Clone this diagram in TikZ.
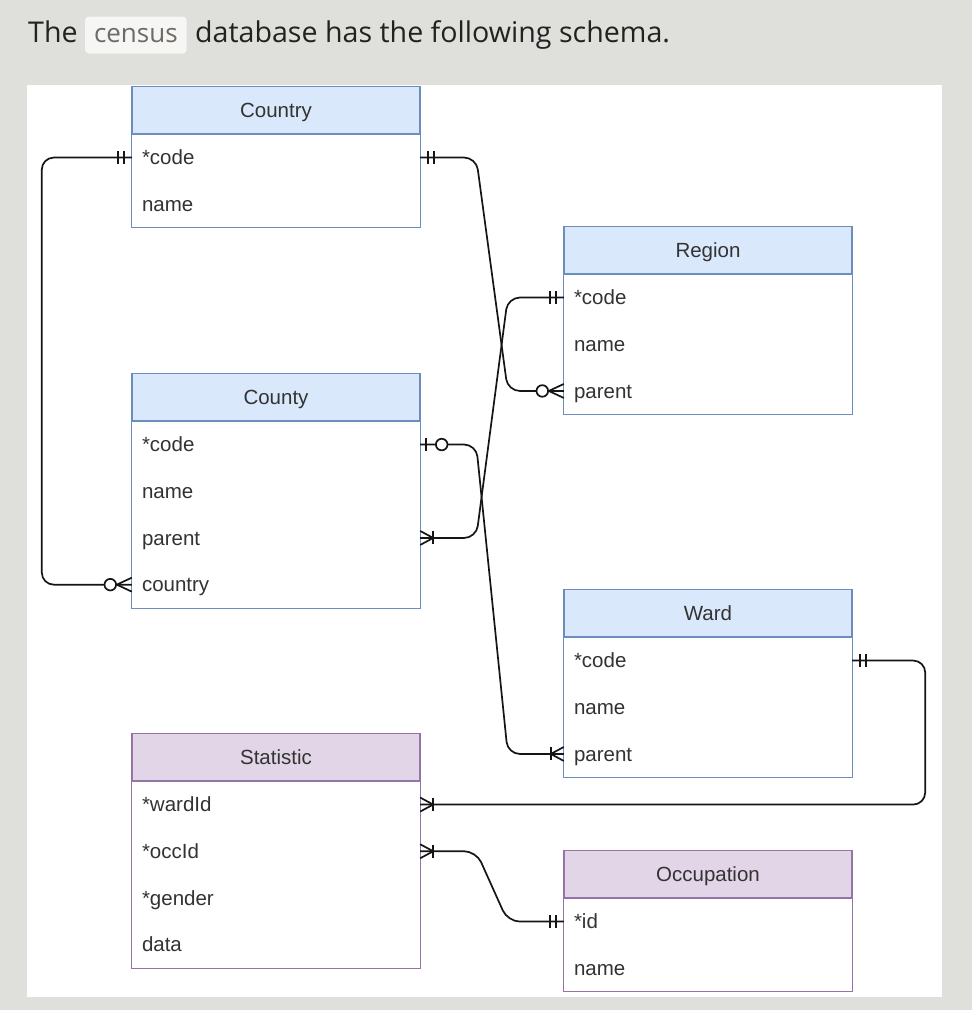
\documentclass[tikz,border=0pt]{standalone}
\usepackage{fontspec}
\setmainfont{Liberation Sans}
\newfontfamily\opensans{Open Sans}
\usepackage{tikz}
\usetikzlibrary{positioning, calc, decorations.markings}
\definecolor{pagegray}{HTML}{DFE0DB}
\definecolor{headtext}{HTML}{222222}
\definecolor{codefill}{HTML}{F6F6F4}
\definecolor{codetext}{HTML}{6E6A66}
\definecolor{tableblue}{HTML}{DAE8FC}
\definecolor{edgeblue}{HTML}{6C8EBF}
\definecolor{tablepurple}{HTML}{E1D5E7}
\definecolor{edgepurple}{HTML}{9673A6}
\definecolor{fieldtext}{HTML}{333333}
\definecolor{relblack}{HTML}{151515}

\tikzset{
  titletext/.style={font=\opensans\fontsize{28.6}{34}\selectfont, text=headtext, inner sep=0pt, anchor=base west},
  codebox/.style={font=\opensans\fontsize{26}{30}\selectfont, text=codetext, fill=codefill, rounded corners=4pt,
    inner xsep=9pt, inner ysep=6pt, text height=20pt, text depth=5pt, anchor=base west},
  bluehead/.style={draw=edgeblue, fill=tableblue, line width=1.3pt, minimum width=288pt, minimum height=46.7pt,
    inner sep=0pt, text height=15pt, text depth=0pt, text=fieldtext, font=\fontsize{20.5}{24}\selectfont, anchor=north},
  purplehead/.style={bluehead, draw=edgepurple, fill=tablepurple},
  field/.style={anchor=north, text width=268pt, inner xsep=10pt, inner ysep=0pt, minimum height=46.7pt,
    text height=15pt, text depth=0.4pt, align=left, text=fieldtext, font=\fontsize{20.5}{24}\selectfont},
  rel/.style={draw=relblack, line width=1.7pt, rounded corners=12pt},
  tick/.style={draw=relblack, line width=1.7pt, sharp corners},
  % mandatory one ||
  one start/.style={postaction={decorate, decoration={markings,
    mark=at position 8pt with {\draw[tick] (0,-6.5pt) -- (0,6.5pt);},
    mark=at position 14pt with {\draw[tick] (0,-6.5pt) -- (0,6.5pt);}}}},
  one end/.style={postaction={decorate, decoration={markings,
    mark=at position -8pt with {\draw[tick] (0,-6.5pt) -- (0,6.5pt);},
    mark=at position -14pt with {\draw[tick] (0,-6.5pt) -- (0,6.5pt);}}}},
  % one or many |<
  many start/.style={postaction={decorate, decoration={markings,
    mark=at position 13pt with {\draw[tick] (0,-6.5pt) -- (0,6.5pt);
      \draw[tick] (-13pt,7pt) -- (0,0) -- (-13pt,-7pt);}}}},
  many end/.style={postaction={decorate, decoration={markings,
    mark=at position -13pt with {\draw[tick] (0,-6.5pt) -- (0,6.5pt);
      \draw[tick] (13pt,7pt) -- (0,0) -- (13pt,-7pt);}}}},
  % zero or many o<
  zmany end/.style={postaction={decorate, decoration={markings,
    mark=at position -15pt with {\draw[tick] (15pt,7pt) -- (0,0) -- (15pt,-7pt);},
    mark=at position -21.5pt with {\draw[tick, fill=white] (0,0) circle (5.8pt);}}}},
  % zero or one +o
  zone start/.style={postaction={decorate, decoration={markings,
    mark=at position 6pt with {\draw[tick] (0,-6.5pt) -- (0,6.5pt);},
    mark=at position 21.5pt with {\draw[tick, fill=white] (0,0) circle (5.8pt);}}}},
}

\begin{document}
\begin{tikzpicture}[x=1pt, y=-1pt]
  % Page background and white panel
  \fill[pagegray] (0,0) rectangle (972,1010);
  \fill[white] (27,85) rectangle (942,997);

  % Sentence above the schema
  \node[titletext] (the) at (28,42.5) {The};
  \node[codebox] (census) at ([xshift=7pt]the.base east) {census};
  \node[titletext] (sentence) at ([xshift=8pt]census.base east) {database has the following schema.};

  % Country table
  \node[bluehead] (country) at (276,86) {Country};
  \foreach \key/\label [count=\i from 0] in {code/*code, name/name}
    \node[field] (country-\key) at ($(country.south)+(0,{46.7*\i})$) {\label};
  \draw[edgeblue, line width=1.3pt] (country.south west) rectangle (country-name.south east);

  % Region table
  \node[bluehead] (region) at (708,226) {Region};
  \foreach \key/\label [count=\i from 0] in {code/*code, name/name, parent/parent}
    \node[field] (region-\key) at ($(region.south)+(0,{46.7*\i})$) {\label};
  \draw[edgeblue, line width=1.3pt] (region.south west) rectangle (region-parent.south east);

  % County table
  \node[bluehead] (county) at (276,373) {County};
  \foreach \key/\label [count=\i from 0] in {code/*code, name/name, parent/parent, country/country}
    \node[field] (county-\key) at ($(county.south)+(0,{46.7*\i})$) {\label};
  \draw[edgeblue, line width=1.3pt] (county.south west) rectangle (county-country.south east);

  % Ward table
  \node[bluehead] (ward) at (708,589) {Ward};
  \foreach \key/\label [count=\i from 0] in {code/*code, name/name, parent/parent}
    \node[field] (ward-\key) at ($(ward.south)+(0,{46.7*\i})$) {\label};
  \draw[edgeblue, line width=1.3pt] (ward.south west) rectangle (ward-parent.south east);

  % Statistic table
  \node[purplehead] (statistic) at (276,733) {Statistic};
  \foreach \key/\label [count=\i from 0] in {wardid/*wardId, occid/*occId, gender/*gender, data/data}
    \node[field] (statistic-\key) at ($(statistic.south)+(0,{46.7*\i})$) {\label};
  \draw[edgepurple, line width=1.3pt] (statistic.south west) rectangle (statistic-data.south east);

  % Occupation table
  \node[purplehead] (occupation) at (708,850) {Occupation};
  \foreach \key/\label [count=\i from 0] in {id/*id, name/name}
    \node[field] (occupation-\key) at ($(occupation.south)+(0,{46.7*\i})$) {\label};
  \draw[edgepurple, line width=1.3pt] (occupation.south west) rectangle (occupation-name.south east);

  % Relations
  \draw[rel, one start, zmany end] (country-code.west) -- ++(-90,0) |- (county-country.west);
  \draw[rel, one start, zmany end] (country-code.east) -- ++(56,0)
    -- ([xshift=-56pt]region-parent.west) -- (region-parent.west);
  \draw[rel, many start, one end] (county-parent.east) -- ++(56,0)
    -- ([xshift=-56pt]region-code.west) -- (region-code.west);
  \draw[rel, zone start, many end] (county-code.east) -- ++(56,0)
    -- ([xshift=-56pt]ward-parent.west) -- (ward-parent.west);
  \draw[rel, one start, many end] (ward-code.east) -- ++(73,0) |- (statistic-wardid.east);
  \draw[rel, many start, one end] (statistic-occid.east) -- ++(56,0)
    -- ([xshift=-56pt]occupation-id.west) -- (occupation-id.west);
\end{tikzpicture}
\end{document}
